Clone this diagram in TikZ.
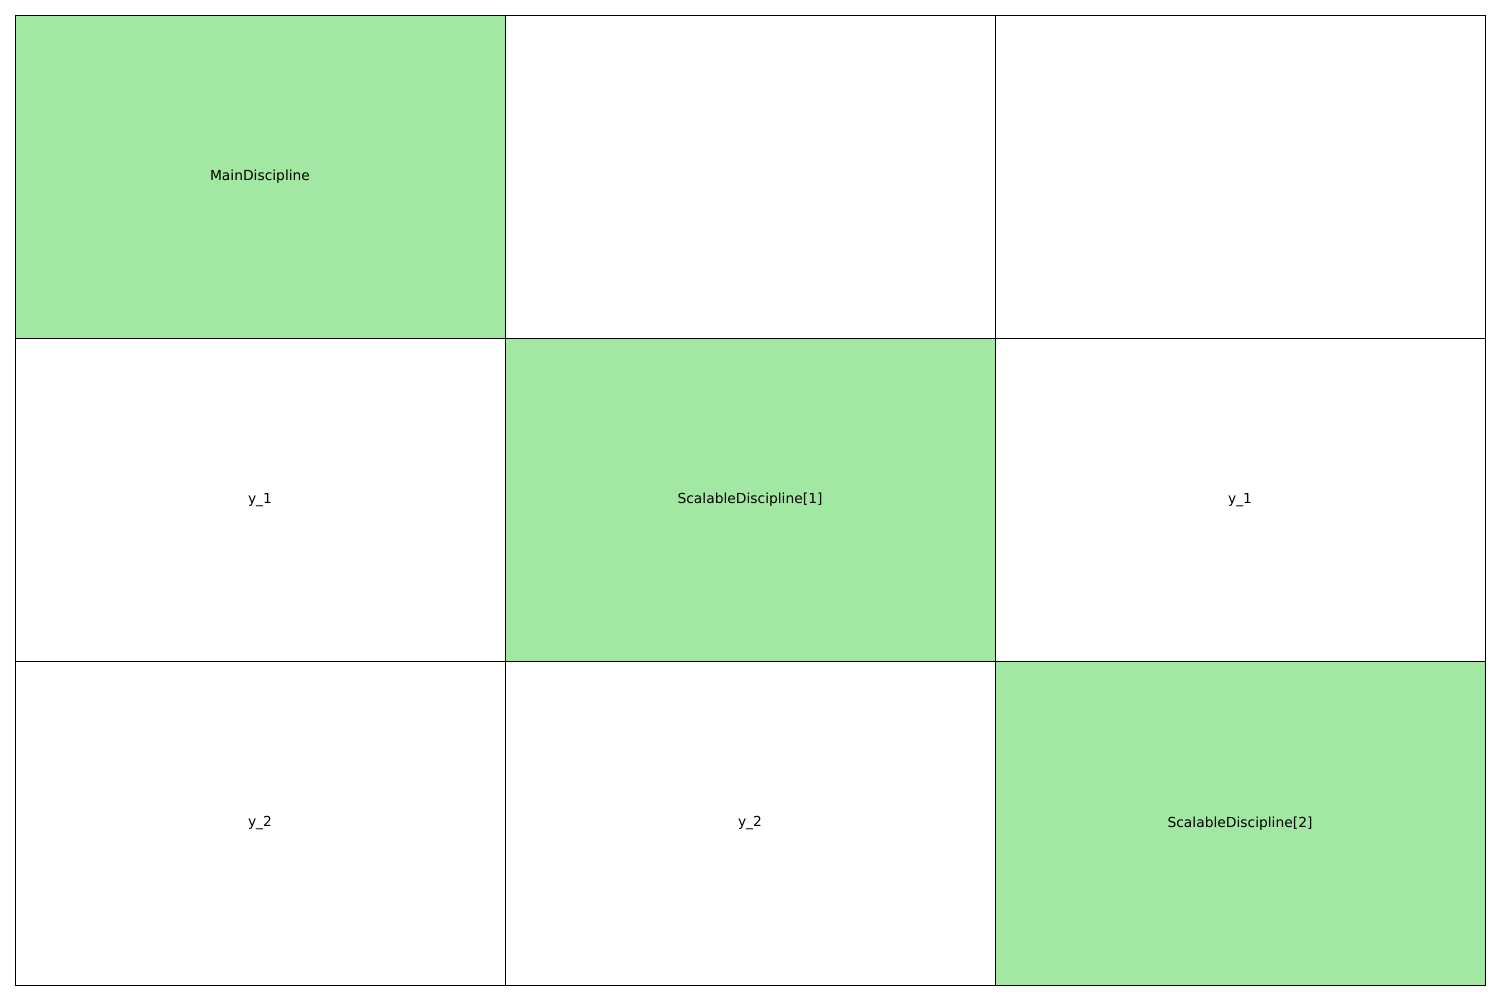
\documentclass[tikz,border=0pt]{standalone}
\usepackage{fontspec}
\setmainfont{DejaVu Sans}
\definecolor{discgreen}{HTML}{A2E8A2}
\tikzset{
  cell/.style={draw=black, line width=0.7pt, minimum width=124.46mm, minimum height=82.13mm, inner sep=0pt, font=\fontsize{10pt}{12pt}\selectfont},
  disc/.style={cell, fill=discgreen}
}
\begin{document}
\begin{tikzpicture}[x=0.254mm,y=-0.254mm]
\useasboundingbox (0,0) rectangle (1500,1000);

%diagonal: the disciplines
\node[disc] (d1) at (260,176.7) {MainDiscipline};
\node[disc] (d2) at (750,500) {ScalableDiscipline[1]};
\node[disc] (d3) at (1240,823.3) {ScalableDiscipline[2]};

%off diagonal couplings
\node[cell] (c12) at (750,176.7) {};
\node[cell] (c13) at (1240,176.7) {};
\node[cell] (c21) at (260,500) {y\_1};
\node[cell] (c23) at (1240,500) {y\_1};
\node[cell] (c31) at (260,823.3) {y\_2};
\node[cell] (c32) at (750,823.3) {y\_2};

\end{tikzpicture}
\end{document}
